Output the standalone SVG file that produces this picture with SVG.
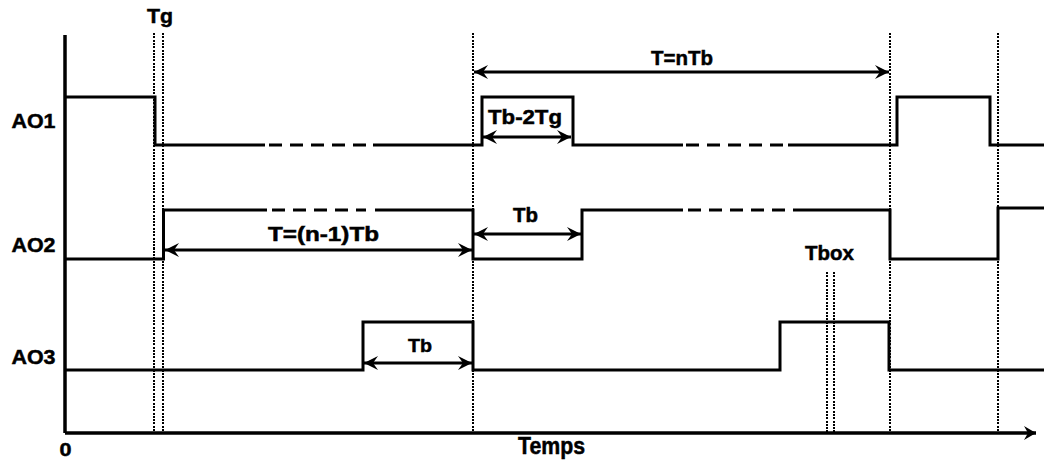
<svg xmlns="http://www.w3.org/2000/svg" width="1044" height="464" viewBox="0 0 1044 464">
<style>
.sig{fill:none;stroke:#000;stroke-width:3;stroke-linejoin:miter;stroke-linecap:butt}
.dash{fill:none;stroke:#000;stroke-width:3;stroke-dasharray:13 8}
.dot{fill:none;stroke:#000;stroke-width:2;stroke-dasharray:2 1.3;shape-rendering:crispEdges}
.axis{fill:none;stroke:#000;stroke-width:3.5}
.dim{fill:none;stroke:#000;stroke-width:3;marker-start:url(#ah);marker-end:url(#ah)}
text{font-family:"Liberation Sans",Arial,sans-serif;font-weight:bold;fill:#000;stroke:#000;stroke-width:0.5}
</style>
<defs>
<marker id="ah" markerUnits="userSpaceOnUse" markerWidth="16" markerHeight="16" viewBox="-15 -8 16 16" refX="0" refY="0" orient="auto-start-reverse">
<path d="M0,0 L-14,-7 L-9,0 L-14,7 Z" fill="#000"/>
</marker>
<marker id="ax" markerUnits="userSpaceOnUse" markerWidth="16" markerHeight="16" viewBox="-15 -8 16 16" refX="0" refY="0" orient="auto">
<path d="M0,0 L-12,-7 L-8,0 L-12,7 Z" fill="#000"/>
</marker>
</defs>

<g id="guides">
<path class="dot" d="M154,33 V432 M163,33 V432 M473,33 V432 M890,33 V432 M998,33 V432 M827,272 V432 M834,272 V432"/>
</g>

<g id="axes">
<path class="axis" d="M65,35 V433"/>
<path class="axis" d="M65,433 H1036" marker-end="url(#ax)"/>
<text x="59.5" y="456" font-size="19" textLength="12" lengthAdjust="spacingAndGlyphs">0</text>
<text x="518" y="454" font-size="23" textLength="67" lengthAdjust="spacingAndGlyphs">Temps</text>
</g>

<g id="AO1">
<text x="11.5" y="128.3" font-size="21" textLength="44" lengthAdjust="spacingAndGlyphs">AO1</text>
<path class="sig" d="M65,97 H155 V145 H265"/>
<path class="dash" d="M269,145 H366"/>
<path class="sig" d="M373,145 H482 V97 H573 V145 H683"/>
<path class="dash" d="M686,145 H784"/>
<path class="sig" d="M788,145 H897 V97 H990 V145 H1044"/>
</g>

<g id="AO2">
<text x="11.5" y="251.7" font-size="20.5" textLength="44" lengthAdjust="spacingAndGlyphs">AO2</text>
<path class="sig" d="M65,259 H163.5 V210 H267"/>
<path class="dash" d="M272,210 H366"/>
<path class="sig" d="M375,210 H473 V259 H582 V210 H683"/>
<path class="dash" d="M688,210 H786"/>
<path class="sig" d="M793,210 H890 V259 H998 V208 H1044"/>
</g>

<g id="AO3">
<text x="11.5" y="364" font-size="20.5" textLength="44" lengthAdjust="spacingAndGlyphs">AO3</text>
<path class="sig" d="M65,370 H363 V322 H473 V370 H780 V322 H889 V370 H1044"/>
</g>

<g id="labels">
<text x="147" y="23" font-size="21" textLength="26" lengthAdjust="spacingAndGlyphs">Tg</text>
<text x="651" y="65" font-size="21" textLength="62" lengthAdjust="spacingAndGlyphs">T=nTb</text>
<text x="488" y="123.5" font-size="21" textLength="74" lengthAdjust="spacingAndGlyphs">Tb-2Tg</text>
<text x="268" y="240.5" font-size="19.5" textLength="111" lengthAdjust="spacingAndGlyphs">T=(n-1)Tb</text>
<text x="513" y="222" font-size="19.5" textLength="25" lengthAdjust="spacingAndGlyphs">Tb</text>
<text x="805" y="260" font-size="21" textLength="49" lengthAdjust="spacingAndGlyphs">Tbox</text>
<text x="408" y="352" font-size="19" textLength="24" lengthAdjust="spacingAndGlyphs">Tb</text>
</g>

<g id="connectors">
<path class="dim" d="M474,72 H889"/>
<path class="dim" d="M483,137 H571"/>
<path class="dim" d="M165,250 H472"/>
<path class="dim" d="M474,234 H581"/>
<path class="dim" d="M364,363 H472"/>
</g>
</svg>
